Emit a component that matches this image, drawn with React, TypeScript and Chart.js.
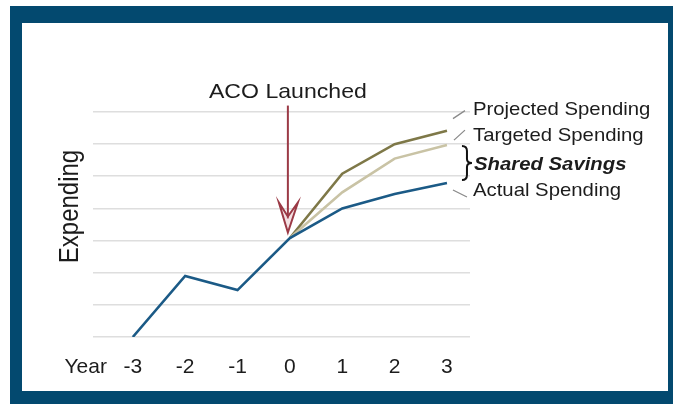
import React, { useEffect, useRef } from "react";
import { Chart, registerables } from "chart.js";

Chart.register(...registerables);

const years = [-3, -2, -1, 0, 1, 2, 3];
const actualSpending = [0, 1.9, 1.46, 3.08, 4.0, 4.45, 4.79];
const projectedSpending = [null, null, null, 3.08, 5.08, 6.0, 6.42];
const targetedSpending = [null, null, null, 3.08, 4.5, 5.55, 5.97];
const xTickValues = [-3.9, -3, -2, -1, 0, 1, 2, 3];
const xTickLabels = ["Year", "-3", "-2", "-1", "0", "1", "2", "3"];
const launchYear = 0;
const yAxisTitle = "Expending";
const launchLabel = "ACO Launched";
const seriesLabels = ["Projected Spending", "Targeted Spending", "Shared Savings", "Actual Spending"];

const FONT = "'Liberation Sans', Arial, sans-serif";
const TEXT = "#1c1c1c";

function toPoints(vals: (number | null)[]) {
  const out: { x: number; y: number }[] = [];
  vals.forEach((v, i) => {
    if (v !== null) out.push({ x: years[i], y: v });
  });
  return out;
}

function stretchText(ctx: CanvasRenderingContext2D, text: string, x: number, y: number, sx: number, align: CanvasTextAlign) {
  ctx.save();
  ctx.translate(x, y);
  ctx.scale(sx, 1);
  ctx.textAlign = align;
  ctx.fillText(text, 0, 0);
  ctx.restore();
}

const annotationPlugin = {
  id: "acoAnnotations",
  afterDatasetsDraw(chart: any) {
    const ctx: CanvasRenderingContext2D = chart.ctx;
    const xs = chart.scales.x;
    const ys = chart.scales.y;
    ctx.save();

    // Y axis title
    ctx.fillStyle = TEXT;
    ctx.font = `24px ${FONT}`;
    ctx.save();
    ctx.translate(xs.left - 15, (chart.chartArea.top + chart.chartArea.bottom) / 2 - 18);
    ctx.rotate(-Math.PI / 2);
    ctx.scale(1, 1.15);
    ctx.textAlign = "center";
    ctx.textBaseline = "alphabetic";
    ctx.fillText(yAxisTitle, 0, 0);
    ctx.restore();

    // Launch arrow
    const ax = xs.getPixelForValue(launchYear) - 2;
    const top = ys.getPixelForValue(7.2);
    const tip = ys.getPixelForValue(3.25);
    ctx.strokeStyle = "#9b3a46";
    ctx.lineWidth = 2;
    ctx.beginPath();
    ctx.moveTo(ax, top);
    ctx.lineTo(ax, tip - 14);
    ctx.stroke();
    ctx.beginPath();
    ctx.moveTo(ax, tip);
    ctx.lineTo(ax - 9, tip - 30);
    ctx.lineTo(ax, tip - 16);
    ctx.lineTo(ax + 10, tip - 30);
    ctx.closePath();
    ctx.fillStyle = "rgba(220,170,175,0.35)";
    ctx.fill();
    ctx.stroke();

    ctx.fillStyle = TEXT;
    ctx.font = `21px ${FONT}`;
    ctx.textBaseline = "alphabetic";
    stretchText(ctx, launchLabel, ax, top - 8, 1.1, "center");

    // Right-side labels
    const x0 = xs.getPixelForValue(3);
    const pp = ys.getPixelForValue(projectedSpending[6] as number);
    const pt = ys.getPixelForValue(targetedSpending[6] as number);
    const pa = ys.getPixelForValue(actualSpending[6]);
    const lx = x0 + 26;

    ctx.font = `19px ${FONT}`;
    stretchText(ctx, seriesLabels[0], lx, pp - 16, 1.07, "left");
    stretchText(ctx, seriesLabels[1], lx, pt - 4, 1.07, "left");
    stretchText(ctx, seriesLabels[3], lx, pa + 13, 1.07, "left");
    ctx.font = `italic bold 19px ${FONT}`;
    stretchText(ctx, seriesLabels[2], lx + 1, pt + 25, 1.07, "left");

    // leaders
    ctx.strokeStyle = "#8a8a8a";
    ctx.lineWidth = 1.3;
    ctx.beginPath();
    ctx.moveTo(x0 + 6, pp - 12);
    ctx.lineTo(x0 + 18, pp - 20);
    ctx.moveTo(x0 + 7, pt - 5);
    ctx.lineTo(x0 + 18, pt - 15);
    ctx.moveTo(x0 + 6, pa + 7);
    ctx.lineTo(x0 + 20, pa + 14);
    ctx.stroke();

    // brace
    const bx = x0 + 15;
    const b1 = pt + 1;
    const b2 = pa - 3;
    const bm = (b1 + b2) / 2;
    ctx.strokeStyle = "#111";
    ctx.lineWidth = 2;
    ctx.beginPath();
    ctx.moveTo(bx, b1);
    ctx.quadraticCurveTo(bx + 5, b1, bx + 5, b1 + 5);
    ctx.lineTo(bx + 5, bm - 4);
    ctx.quadraticCurveTo(bx + 5, bm, bx + 10, bm);
    ctx.quadraticCurveTo(bx + 5, bm, bx + 5, bm + 4);
    ctx.lineTo(bx + 5, b2 - 5);
    ctx.quadraticCurveTo(bx + 5, b2, bx, b2);
    ctx.stroke();

    ctx.restore();
  },
};

export default function App() {
  const ref = useRef<HTMLCanvasElement | null>(null);

  useEffect(() => {
    if (!ref.current) return;
    const chart = new Chart(ref.current, {
      type: "line",
      data: {
        datasets: [
          {
            label: seriesLabels[3],
            data: toPoints(actualSpending),
            borderColor: "#1b5a86",
            borderWidth: 2.6,
            pointRadius: 0,
            tension: 0,
            order: 0,
          },
          {
            label: seriesLabels[1],
            data: toPoints(targetedSpending),
            borderColor: "#c9c3a5",
            borderWidth: 2.6,
            pointRadius: 0,
            tension: 0,
            order: 1,
          },
          {
            label: seriesLabels[0],
            data: toPoints(projectedSpending),
            borderColor: "#7e7848",
            borderWidth: 2.6,
            pointRadius: 0,
            tension: 0,
            order: 2,
          },
        ],
      },
      options: {
        animation: false,
        responsive: true,
        maintainAspectRatio: false,
        layout: { padding: { left: 93, right: 203, top: 112, bottom: 27 } },
        plugins: { legend: { display: false }, tooltip: { enabled: false } },
        scales: {
          x: {
            type: "linear",
            min: -3.76,
            max: 3.44,
            grid: { display: false, drawTicks: false },
            border: { display: false },
            afterBuildTicks: (scale: any) => {
              scale.ticks = xTickValues.map((v) => ({ value: v }));
            },
            afterFit: (scale: any) => {
              scale.height = 40;
            },
            ticks: {
              autoSkip: false,
              maxRotation: 0,
              padding: 18,
              color: TEXT,
              font: { family: FONT, size: 21 },
              callback: (_v: any, i: number) => xTickLabels[i],
            },
          },
          y: {
            min: 0,
            max: 7,
            ticks: { display: false, stepSize: 1 },
            grid: { color: "#dedede", lineWidth: 1.6, drawTicks: false },
            border: { display: false },
            afterFit: (scale: any) => {
              scale.width = 0;
            },
          },
        },
      },
      plugins: [annotationPlugin],
    } as any);
    return () => chart.destroy();
  }, []);

  return (
    <div style={{ position: "fixed", left: 0, top: 0, width: 673, height: 404, background: "#fff" }}>
      <div style={{ position: "absolute", left: 10, top: 6, right: 0, bottom: 0, background: "#03496f" }} />
      <div style={{ position: "absolute", left: 22, top: 23, width: 646, height: 368, background: "#fff" }} />
      <div style={{ position: "absolute", left: 0, top: 0, width: 673, height: 404 }}>
        <canvas ref={ref} />
      </div>
    </div>
  );
}
